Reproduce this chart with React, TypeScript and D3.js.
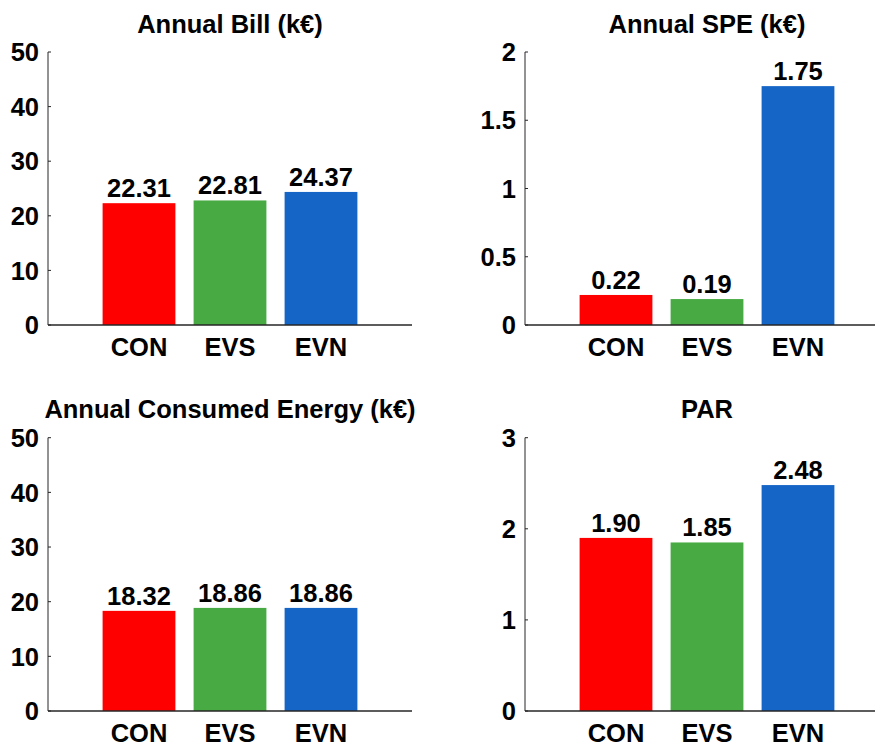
import React from "react";
import * as d3 from "d3";

const categories = ["CON", "EVS", "EVN"];
const barColors = ["#FF0000", "#47AA42", "#1565C7"];

const billValues = [22.31, 22.81, 24.37];
const speValues = [0.22, 0.19, 1.75];
const energyValues = [18.32, 18.86, 18.86];
const parValues = [1.9, 1.85, 2.48];

const billTicks = [0, 10, 20, 30, 40, 50];
const speTicks = [0, 0.5, 1, 1.5, 2];
const energyTicks = [0, 10, 20, 30, 40, 50];
const parTicks = [0, 1, 2, 3];

const billLabels = ["22.31", "22.81", "24.37"];
const speLabels = ["0.22", "0.19", "1.75"];
const energyLabels = ["18.32", "18.86", "18.86"];
const parLabels = ["1.90", "1.85", "2.48"];

const titles = [
  "Annual Bill (k€)",
  "Annual SPE (k€)",
  "Annual Consumed Energy (k€)",
  "PAR",
];

const FONT = "'Liberation Sans', Arial, sans-serif";
const FS = 25.5;

type PanelProps = {
  x0: number;
  yTop: number;
  yBase: number;
  title: string;
  values: number[];
  labels: string[];
  ticks: number[];
};

function Panel({ x0, yTop, yBase, title, values, labels, ticks }: PanelProps) {
  const width = 364;
  const x = d3.scaleLinear().domain([0, 4]).range([x0, x0 + width]);
  const y = d3
    .scaleLinear()
    .domain([0, ticks[ticks.length - 1]])
    .range([yBase, yTop]);
  const bw = x(0.8) - x(0);
  const axisColor = "#262626";
  return (
    <g>
      <text
        x={x(2)}
        y={yTop - 19.5}
        textAnchor="middle"
        fontFamily={FONT}
        fontWeight="bold"
        fontSize={FS}
        fill="#000"
      >
        {title}
      </text>
      {values.map((v, i) => (
        <rect
          key={"b" + i}
          x={x(i + 1) - bw / 2}
          y={y(v)}
          width={bw}
          height={yBase - y(v)}
          fill={barColors[i]}
        />
      ))}
      {values.map((v, i) => (
        <text
          key={"l" + i}
          x={x(i + 1)}
          y={y(v) - 6}
          textAnchor="middle"
          fontFamily={FONT}
          fontWeight="bold"
          fontSize={FS}
          fill="#000"
        >
          {labels[i]}
        </text>
      ))}
      <line x1={x0} x2={x0} y1={yTop} y2={yBase} stroke={axisColor} strokeWidth={1} />
      <line x1={x0} x2={x0 + width} y1={yBase} y2={yBase} stroke={axisColor} strokeWidth={1.3} />
      {ticks.map((t) => (
        <g key={"t" + t}>
          <line x1={x0} x2={x0 + 3} y1={y(t)} y2={y(t)} stroke={axisColor} strokeWidth={1} />
          <text
            x={x0 - 9}
            y={y(t)}
            dy="0.36em"
            textAnchor="end"
            fontFamily={FONT}
            fontWeight="bold"
            fontSize={FS}
            fill="#000"
          >
            {String(t)}
          </text>
        </g>
      ))}
      {categories.map((c, i) => (
        <text
          key={"c" + i}
          x={x(i + 1)}
          y={yBase + 31}
          textAnchor="middle"
          fontFamily={FONT}
          fontWeight="bold"
          fontSize={FS}
          fill="#000"
        >
          {c}
        </text>
      ))}
    </g>
  );
}

export default function App() {
  return (
    <svg
      width={875}
      height={744}
      style={{ position: "absolute", left: 0, top: 0, background: "#fff" }}
    >
      <rect width={875} height={744} fill="#fff" />
      <Panel x0={48} yTop={52} yBase={325} title={titles[0]} values={billValues} labels={billLabels} ticks={billTicks} />
      <Panel x0={525} yTop={52} yBase={325} title={titles[1]} values={speValues} labels={speLabels} ticks={speTicks} />
      <Panel x0={48} yTop={437.7} yBase={711} title={titles[2]} values={energyValues} labels={energyLabels} ticks={energyTicks} />
      <Panel x0={525} yTop={437.7} yBase={711} title={titles[3]} values={parValues} labels={parLabels} ticks={parTicks} />
    </svg>
  );
}
